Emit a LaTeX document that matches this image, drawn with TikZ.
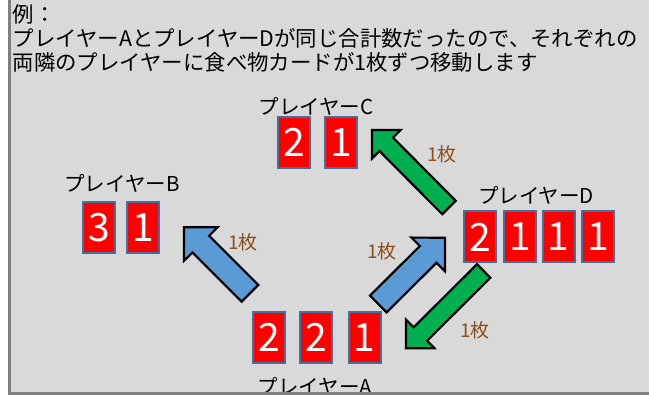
\documentclass[tikz,border=0pt]{standalone}
\usepackage{fontspec}
\setmainfont{Noto Sans CJK JP}
\usepackage{tikz}
\usetikzlibrary{positioning,calc}

\definecolor{bggray}{RGB}{217,217,217}
\definecolor{framegray}{RGB}{127,127,127}
\definecolor{cardred}{RGB}{255,0,0}
\definecolor{cardedge}{RGB}{65,113,156}
\definecolor{arrowgreen}{RGB}{0,176,80}
\definecolor{arrowblue}{RGB}{91,155,213}
\definecolor{countbrown}{RGB}{140,80,30}

\begin{document}
\begin{tikzpicture}[x=1pt, y=-1pt,
    card/.style={draw=cardedge, line width=2pt, fill=cardred, text=white, minimum width=32pt, minimum height=51pt, inner sep=0pt, font=\fontsize{39}{39}\selectfont},
    player/.style={inner sep=0pt, font=\fontsize{20.5}{20.5}\selectfont},
    count/.style={inner sep=0pt, text=countbrown, font=\fontsize{19}{19}\selectfont},
    blockarrow/.style={draw=black, line width=2.2pt, line join=miter}]
    \useasboundingbox (0,0) rectangle (649,395);
    \fill[white] (0,0) rectangle (649,395);
    \fill[bggray] (10,0) rectangle (649,392);
    % header text
    \node[anchor=north west, align=left, inner sep=0pt, font=\fontsize{21.4}{24}\selectfont] (caption) at (12.5,4) {例：\\プレイヤーAとプレイヤーDが同じ合計数だったので、それぞれの\\両隣のプレイヤーに食べ物カードが1枚ずつ移動します};
    % cards
    \foreach \x/\v [count=\i] in {294/2, 341/1} \node[card] (c\i) at (\x,142.5) {\v};
    \foreach \x/\v [count=\i] in {99/3, 143/1} \node[card] (b\i) at (\x,227.5) {\v};
    \foreach \x/\v [count=\i] in {269/2, 316/2, 364.5/1} \node[card] (a\i) at (\x,337.5) {\v};
    \foreach \x/\v [count=\i] in {480/2, 520/1, 558.5/1, 598/1} \node[card] (d\i) at (\x,237) {\v};
    % player names
    \node[player] (nameC) at (316,106) {プレイヤーC};
    \node[player] (nameB) at (122,183) {プレイヤーB};
    \node[player] (nameD) at (536,195) {プレイヤーD};
    \node[player] (nameA) at (315,386) {プレイヤーA};
    % arrows
    \coordinate (toCtail) at (449,207.5);
    \coordinate (toCtip) at (372,130);
    \coordinate (toBtail) at (250,293.3);
    \coordinate (toBtip) at (184,227.3);
    \coordinate (toDtail) at (378.3,304);
    \coordinate (toDtip) at (445,237.7);
    \coordinate (toAtail) at (483.7,271);
    \coordinate (toAtip) at (406,348.3);
    \foreach \tl/\tp/\col/\sw/\hw [count=\i] in {toCtail/toCtip/arrowgreen/9.5/20.2, toBtail/toBtip/arrowblue/11.8/23.7, toDtail/toDtip/arrowblue/11.8/23.7, toAtail/toAtip/arrowgreen/9.5/20.2} {
        \path ($(\tp)!\hw pt!(\tl)$) coordinate (head\i);
        \draw[blockarrow, fill=\col] (\tp) -- ($(head\i)!\hw pt!90:(\tp)$) -- ($(head\i)!\sw pt!90:(\tp)$) -- ($(\tl)!\sw pt!90:(\tp)$) -- ($(\tl)!\sw pt!-90:(\tp)$) -- ($(head\i)!\sw pt!-90:(\tp)$) -- ($(head\i)!\hw pt!-90:(\tp)$) -- cycle;
    }
    % counts
    \node[count] (countC) at (442,154) {1枚};
    \node[count] (countB) at (243,242) {1枚};
    \node[count] (countD) at (382,251) {1枚};
    \node[count] (countA) at (475,330) {1枚};
    % frame
    \draw[framegray, line width=3pt] (9.5,0) -- (9.5,393.5) -- (649,393.5);
\end{tikzpicture}
\end{document}
